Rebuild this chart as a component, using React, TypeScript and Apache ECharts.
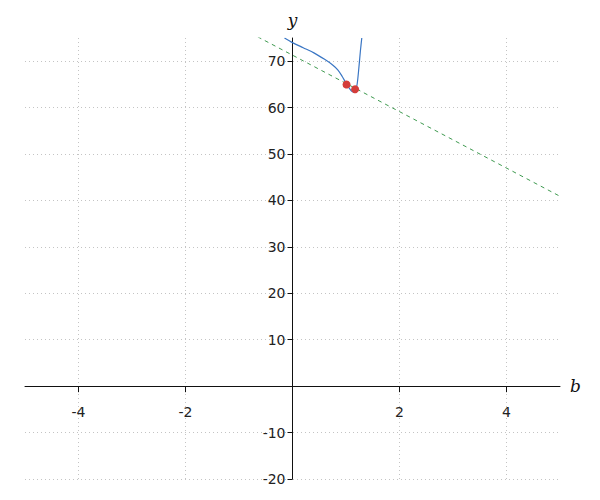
import React, { useEffect, useRef } from "react";
import * as echarts from "echarts";

const xTicks = [-4, -2, 2, 4];
const yTicks = [-20, -10, 10, 20, 30, 40, 50, 60, 70];

const curveB = [-0.15, 0.0, 0.2, 0.4, 0.6, 0.75, 0.85, 0.93, 1.0, 1.06, 1.11, 1.15, 1.18, 1.21, 1.24, 1.27, 1.295];
const curveY = [75.0, 74.0, 72.9, 71.8, 70.4, 69.2, 68.1, 66.7, 65.3, 64.2, 63.5, 63.3, 63.6, 65.2, 68.5, 72.3, 75.0];

const secantB = [-0.65, 5];
const secantY = [75.25, 40.9];

const pointB = [1.01, 1.17];
const pointY = [65.0, 63.95];

const X_MIN = -5, X_MAX = 5, Y_MIN = -20, Y_MAX = 75;
const GRID = { left: 25, right: 40, top: 38, bottom: 21 };
const W = 600, H = 500;

const labelFont = { fontFamily: "DejaVu Sans", fontSize: 14, color: "#222" };
const gridLine = { show: true, lineStyle: { type: [1, 3], color: "#c4c4c4", width: 1 } };

export default function App() {
  const ref = useRef<HTMLDivElement>(null);
  useEffect(() => {
    if (!ref.current) return;
    const chart = echarts.init(ref.current, null, { renderer: "svg" });
    const gw = W - GRID.left - GRID.right;
    const gh = H - GRID.top - GRID.bottom;
    // shift the axes so that they cross at the origin
    const xOffset = -((0 - Y_MIN) / (Y_MAX - Y_MIN)) * gh;
    const yOffset = -((0 - X_MIN) / (X_MAX - X_MIN)) * gw;
    chart.setOption({
      animation: false,
      grid: { ...GRID, containLabel: false },
      xAxis: {
        type: "value",
        min: X_MIN,
        max: X_MAX,
        position: "bottom",
        offset: xOffset,
        name: "b",
        nameLocation: "end",
        nameGap: 10,
        nameTextStyle: { fontFamily: "DejaVu Serif", fontStyle: "italic", fontSize: 17, color: "#111" },
        axisLine: { onZero: false, lineStyle: { color: "#111", width: 1 } },
        axisTick: { show: true, length: 6, customValues: xTicks, lineStyle: { color: "#111" } },
        axisLabel: { customValues: xTicks, margin: 19, ...labelFont },
        splitLine: gridLine,
      },
      yAxis: {
        type: "value",
        min: Y_MIN,
        max: Y_MAX,
        position: "left",
        offset: yOffset,
        name: "y",
        nameLocation: "end",
        nameGap: 10,
        nameTextStyle: { fontFamily: "DejaVu Serif", fontStyle: "italic", fontSize: 17, color: "#111" },
        axisLine: { onZero: false, lineStyle: { color: "#111", width: 1 } },
        axisTick: { show: true, length: 5, customValues: yTicks, lineStyle: { color: "#111" } },
        axisLabel: { customValues: yTicks, margin: 7, ...labelFont },
        splitLine: gridLine,
      },
      series: [
        {
          type: "line",
          data: secantB.map((b, i) => [b, secantY[i]]),
          symbol: "none",
          lineStyle: { color: "#3f9a50", width: 1, type: [4, 4] },
          clip: true,
        },
        {
          type: "line",
          data: curveB.map((b, i) => [b, curveY[i]]),
          symbol: "none",
          smooth: 0.3,
          lineStyle: { color: "#3a76c4", width: 1.2 },
          clip: true,
        },
        {
          type: "scatter",
          data: pointB.map((b, i) => [b, pointY[i]]),
          symbolSize: 8,
          z: 5,
          itemStyle: { color: "#d43d3a", opacity: 1 },
        },
      ],
    });
    return () => chart.dispose();
  }, []);
  return <div ref={ref} style={{ position: "absolute", left: 0, top: 0, width: W, height: H }} />;
}
